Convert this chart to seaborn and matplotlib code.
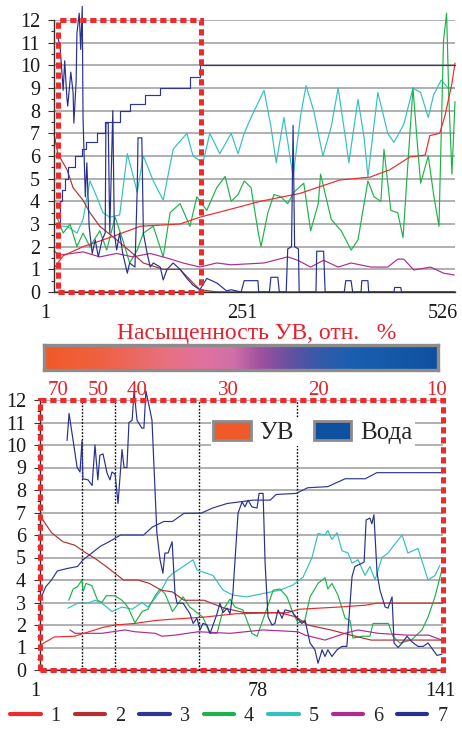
import numpy as np
import matplotlib
matplotlib.use("Agg")
import matplotlib.pyplot as plt
import matplotlib.transforms as mtransforms
from matplotlib.lines import Line2D
from matplotlib.patches import Patch, Rectangle
from matplotlib.colors import LinearSegmentedColormap
import seaborn as sns

sns.set_theme(style="white")
plt.rcParams["font.family"] = ["Liberation Serif", "DejaVu Serif"]

# ---------------- data ----------------
series_names = ["1", "2", "3", "4", "5", "6", "7"]
series_colors = ["#ee2a2a", "#b03035", "#2e3592", "#1db34a", "#33c0c0", "#b02a90", "#27308e"]

# top panel (index 1..526)
top_xticks = [1, 251, 526]
t1_x = [1, 13, 39, 74, 114, 166, 192, 233, 271, 323, 375, 415, 441, 467, 487, 493, 506, 513, 522, 526]
t1_y = [1.05, 1.6, 2.0, 2.4, 2.9, 3.0, 3.3, 3.66, 4.0, 4.35, 4.94, 5.07, 5.4, 5.96, 6.04, 6.9, 7.0, 7.8, 9.2, 10.1]
t2_x = [1, 6, 18, 26, 39, 48, 61, 83, 104, 118, 144, 166, 183, 192, 215, 526]
t2_y = [7.0, 6.1, 5.4, 4.6, 4.05, 3.5, 2.9, 2.3, 1.7, 1.28, 1.0, 1.0, 0.4, 0.1, 0.0, 0.0]
t3_x = [1, 9, 11, 15, 19, 28, 38, 43, 57, 68, 81, 87, 100, 120, 140, 159, 179, 192, 526]
t3_y = [3.0, 4.0, 4.5, 5.0, 5.5, 6.0, 6.3, 6.6, 7.0, 7.5, 7.5, 8.0, 8.3, 8.7, 9.0, 9.0, 9.5, 10.0, 10.0]
t4_x = [5, 13, 22, 31, 39, 48, 61, 70, 81, 91, 100, 110, 118, 131, 144, 153, 166, 179, 188, 201,
        214, 225, 233, 242, 250, 259, 268, 272, 281, 289, 298, 307, 315, 328, 337, 347, 350, 364, 377, 390,
        399, 412, 420, 429, 433, 442, 451, 458, 464, 471, 477, 481, 491, 498, 505, 511, 515, 518, 522, 526]
t4_y = [3.3, 2.6, 3.0, 2.0, 2.6, 2.0, 2.7, 1.85, 3.3, 2.3, 1.28, 1.85, 2.6, 2.9, 1.55, 3.5, 3.9, 2.9, 4.2, 3.6,
        4.6, 5.1, 4.0, 4.3, 4.9, 4.6, 2.7, 2.0, 3.5, 4.3, 4.2, 3.9, 4.4, 4.8, 2.7, 3.9, 5.2, 3.2, 2.7, 1.85,
        2.3, 4.9, 4.2, 4.0, 6.3, 3.6, 3.5, 2.4, 5.5, 9.0, 6.4, 4.8, 6.0, 4.3, 2.9, 11.1, 12.3, 8.5, 5.2, 8.4]
t5_x = [5, 18, 31, 39, 48, 57, 65, 74, 87, 97, 104, 110, 118, 131, 144, 157, 175, 183, 196, 205,
        218, 233, 242, 250, 259, 276, 285, 292, 302, 314, 324, 331, 341, 353, 364, 373, 383, 387, 399, 407,
        412, 425, 438, 446, 459, 471, 481, 491, 498, 508, 517, 525]
t5_y = [2.9, 2.9, 2.6, 3.2, 4.9, 4.2, 3.5, 3.3, 3.4, 6.1, 5.2, 4.4, 6.0, 4.9, 4.05, 6.3, 7.0, 6.0, 5.7, 7.0,
        6.1, 7.0, 6.1, 7.0, 7.7, 8.9, 7.3, 5.7, 7.7, 5.1, 7.8, 9.1, 8.0, 6.0, 7.3, 9.0, 6.7, 5.7, 8.5, 6.8,
        5.1, 8.8, 7.0, 6.6, 7.4, 9.0, 8.8, 7.7, 8.7, 9.35, 9.0, 9.0]
t6_x = [1, 9, 39, 61, 83, 104, 127, 149, 170, 192, 214, 233, 276, 307, 320, 337, 354, 373, 390, 416,
        438, 451, 459, 472, 494, 511, 525]
t6_y = [1.8, 1.63, 1.77, 1.55, 1.7, 1.55, 1.7, 1.5, 1.28, 1.1, 1.28, 1.2, 1.28, 1.55, 1.4, 1.1, 1.4, 1.1, 1.28, 1.1,
        1.1, 1.45, 1.45, 0.97, 1.1, 0.83, 0.75]
t7_x = [5, 9, 13, 15, 18, 19, 23, 26, 27, 30, 31, 34, 36, 38, 39, 42, 44, 47, 51, 55,
        59, 64, 68, 69, 72, 74, 78, 80, 83, 87, 91, 97, 100, 107, 110, 111, 116, 118, 123, 127,
        131, 140, 144, 149, 157, 166, 175, 183, 192, 201, 214, 227, 233, 246, 250, 268, 269, 283, 285, 294,
        296, 305, 307, 312, 314, 316, 321, 322, 344, 345, 354, 356, 381, 383, 390, 392, 403, 404, 412, 413,
        446, 447, 455, 456, 526]
t7_y = [11.4, 10.8, 8.9, 10.2, 8.5, 8.2, 9.7, 8.8, 7.45, 9.3, 11.4, 12.3, 10.7, 12.6, 7.7, 4.2, 5.7, 2.9, 1.7, 2.3,
        1.55, 2.3, 2.6, 7.45, 7.45, 2.6, 8.0, 2.6, 1.85, 2.6, 1.7, 0.83, 1.28, 1.1, 4.6, 6.8, 6.8, 2.6, 1.7, 1.1,
        1.28, 1.1, 0.53, 1.0, 1.28, 1.0, 0.6, 0.3, 0.1, 0.6, 0.4, 0.05, 0.1, 0.0, 0.5, 0.5, 0.0, 0.0, 0.65, 0.65,
        0.0, 0.0, 1.9, 2.0, 7.35, 2.0, 1.9, 0.0, 0.0, 1.8, 1.8, 0.0, 0.0, 0.5, 0.5, 0.0, 0.0, 0.5, 0.5, 0.0,
        0.0, 0.2, 0.2, 0.0, 0.0]

# bottom panel (index 1..141)
bot_xticks = [1, 78, 141]
sat_labels = ["70", "50", "40", "30", "20", "10"]
sat_pos = [7.2, 21.1, 34.7, 66.3, 97.6, 138.9]
vline_pos = [15.6, 27.1, 56.2, 90.3]
b1_x = [1, 6, 13, 18, 23, 27, 34, 41, 46, 58, 69, 87, 91, 105, 114, 118, 141]
b1_y = [1.1, 1.47, 1.5, 1.7, 1.9, 2.0, 2.07, 2.2, 2.25, 2.35, 2.5, 2.55, 2.7, 2.8, 2.88, 2.97, 2.97]
b2_x = [1, 2, 5, 9, 13, 17, 20, 24, 27, 30, 35, 39, 43, 47, 51, 58, 65, 72, 84, 90, 94, 102, 109, 116, 141]
b2_y = [6.9, 6.67, 6.1, 5.7, 5.55, 5.2, 4.97, 4.6, 4.3, 4.0, 4.0, 3.85, 3.55, 3.47, 3.1, 3.1, 2.75, 2.55, 2.55,
        2.36, 2.0, 1.78, 1.55, 1.33, 1.33]
b3_x = [1, 3, 5, 7, 10, 14, 16, 18, 22, 25, 29, 37, 40, 44, 47, 51, 57, 61, 66, 75, 81, 83, 90, 94, 101, 107,
        114, 118, 141]
b3_y = [3.1, 3.7, 4.0, 4.4, 4.5, 4.6, 4.9, 5.1, 5.5, 5.7, 6.0, 6.0, 6.35, 6.6, 6.6, 6.96, 6.97, 7.2, 7.4, 7.55,
        7.55, 7.8, 7.85, 8.1, 8.15, 8.5, 8.5, 8.77, 8.77]
b4_x = [11, 12.5, 14, 15.6, 16, 17, 19, 21, 22.5, 24, 27, 29.5, 31.5, 34, 36.5, 38.5, 41, 42.7, 44.4, 47,
        50.7, 53, 57.6, 60, 62.5, 64.6, 67, 68.7, 71.5, 74.6, 76.4, 80, 82, 84.4, 86.8, 89, 90.6, 93, 94.8, 97.6,
        100, 101, 102.4, 104.5, 107, 108.7, 109.7, 113, 115.6, 116.7, 122, 123.6, 126, 130, 133.7, 135.8, 138.2, 140.6]
b4_y = [3.1, 3.6, 3.7, 4.0, 3.5, 3.85, 3.75, 3.1, 3.0, 3.3, 3.3, 3.1, 2.8, 2.1, 2.6, 2.7, 3.3, 3.6, 3.4, 2.6,
        3.25, 2.8, 2.35, 1.63, 1.63, 2.67, 3.15, 2.8, 2.67, 1.63, 1.5, 2.8, 3.55, 3.6, 3.25, 2.5, 2.1, 2.2, 3.25, 3.85,
        4.1, 3.6, 3.85, 3.33, 2.3, 2.2, 1.42, 1.5, 1.5, 2.07, 2.07, 1.5, 1.2, 1.33, 1.78, 2.35, 3.25, 4.45]
b5_x = [10.7, 14.2, 17.7, 20.1, 22.5, 26.0, 29.5, 33.0, 36.4, 38.5, 41.0, 43.4, 45.5, 47.2, 49.6, 54.2, 55.5,
        61.1, 64.6, 68.0, 72.9, 78.5, 84.4, 88.9, 92.4, 95.5, 97.6, 100.0, 101.0, 102.4, 104.2, 105.9, 108.0,
        109.4, 111.5, 113.9, 115.6, 117.4, 119.8, 121.9, 124.3, 126.8, 128.8, 132.3, 135.8, 138.2, 139.9]
b5_y = [2.75, 2.97, 2.97, 3.1, 2.97, 2.6, 2.8, 2.7, 3.0, 2.8, 3.2, 3.6, 4.1, 4.3, 4.5, 4.9, 4.45, 4.2, 3.55, 3.33,
        3.25, 3.4, 3.55, 3.78, 4.13, 5.0, 6.07, 6.0, 6.2, 5.8, 6.1, 5.3, 5.2, 4.75, 4.9, 4.2, 4.6, 4.0, 5.0, 5.2,
        5.6, 6.0, 5.2, 5.4, 4.0, 4.2, 4.65]
b6_x = [11.4, 13.2, 22.5, 30.5, 34.0, 41.0, 43.4, 47.9, 56.0, 67.0, 78.5, 90.6, 93.1, 100.0, 106.9, 111.5,
        118.5, 128.5, 136.0, 140.6]
b6_y = [1.78, 1.63, 1.63, 1.78, 1.7, 1.63, 1.5, 1.55, 1.7, 1.63, 1.78, 1.7, 1.55, 1.33, 1.63, 1.78, 1.63, 1.55,
        1.55, 1.33]
b7_x = [10.4, 11.1, 12.5, 13.9, 14.9, 15.6, 15.9, 17.7, 19.1, 20.1, 21.1, 21.8, 22.9, 24.3, 25.3, 26.0, 27.1,
        28.1, 29.5, 30.2, 31.2, 31.9, 33.0, 33.7, 34.7, 36.4, 37.1, 37.8, 39.2, 39.9, 41.6, 42.7, 43.7, 44.4,
        45.5, 46.9, 47.9, 48.6, 50.7, 53.1, 54.2, 55.5, 56.6, 57.6, 59.0, 60.1, 62.5, 63.5, 64.6, 66.0, 67.0,
        68.0, 69.8, 71.2, 72.2, 73.3, 74.6, 76.4, 77.1, 78.5, 79.2, 80.2, 81.6, 82.6, 83.7, 85.1, 86.1, 88.5,
        90.3, 92.0, 93.1, 94.8, 96.5, 97.6, 99.0, 100.0, 101.0, 102.4, 104.2, 105.9, 107.6, 109.4, 110.4,
        112.9, 113.6, 114.3, 115.6, 116.3, 117.0, 118.1, 119.1, 120.9, 121.9, 123.3, 124.0, 125.4, 126.8,
        128.5, 130.2, 132.3, 134.1, 135.8, 137.5, 138.9, 140.6]
b7_y = [10.2, 11.4, 10.2, 9.0, 8.8, 10.2, 8.5, 8.45, 8.2, 10.0, 8.45, 9.55, 9.6, 8.75, 8.45, 8.8, 8.7, 7.4, 9.8,
        9.0, 9.0, 11.0, 11.1, 12.4, 11.1, 10.75, 10.75, 12.4, 11.55, 11.1, 6.1, 4.9, 4.3, 5.2, 5.2, 5.7, 3.4,
        2.97, 2.97, 2.5, 2.07, 2.3, 1.78, 2.07, 2.0, 1.63, 2.5, 2.97, 2.55, 2.75, 2.5, 3.4, 6.97, 7.47, 7.25,
        7.55, 7.25, 7.2, 7.85, 7.85, 4.75, 2.36, 2.0, 2.07, 2.67, 2.3, 2.67, 2.6, 2.3, 2.07, 2.2, 1.2, 0.9,
        0.3, 0.9, 0.6, 0.9, 0.6, 0.9, 1.05, 1.05, 4.15, 4.6, 4.75, 4.8, 6.67, 6.75, 6.5, 6.9, 4.3, 3.55, 2.8,
        2.75, 3.25, 1.2, 1.0, 1.2, 1.5, 1.25, 1.05, 1.05, 1.2, 0.9, 0.65, 0.7]

legend_cats = ["УВ", "Вода"]
legend_cat_colors = ["#f05a28", "#1050a0"]
title_text = "Насыщенность УВ, отн.   %"
grad_colors = [(0.0, "#f05a28"), (0.14, "#f06040"), (0.31, "#e87080"), (0.41, "#e070a0"),
               (0.48, "#d070a8"), (0.55, "#a050a0"), (0.61, "#7050a0"), (0.69, "#3a58a8"),
               (0.78, "#1a60b0"), (1.0, "#1050a0")]

# ---------------- figure ----------------
W, H = 462, 729
fig = plt.figure(figsize=(W / 100, H / 100), dpi=100)


def px_axes(l, t, r, b):
    return [l / W, 1 - b / H, (r - l) / W, (b - t) / H]


ax_t = fig.add_axes(px_axes(54, 20, 455, 292))
ax_b = fig.add_axes(px_axes(40, 400, 443, 670))
ax_c = fig.add_axes(px_axes(44, 345, 438, 370))

RED = "#ee2a2a"
LW = 0.85


def style(ax, xlim, xticks, xoffs):
    ax.set_xlim(*xlim)
    ax.set_ylim(0, 12)
    ax.set_yticks(range(13))
    ax.set_yticks(np.arange(0.5, 12, 1), minor=True)
    ax.set_xticks(xticks)
    ax.set_xticklabels([str(t) for t in xticks])
    ax.yaxis.grid(True, which="major", color="#a3a3a3", lw=1.2)
    ax.xaxis.grid(False)
    ax.set_axisbelow(True)
    ax.tick_params(axis="y", which="major", left=True, direction="out", length=4, width=0.8,
                   color="#333333", pad=6, labelsize=14.5, labelcolor="#1a1a1a")
    ax.tick_params(axis="y", which="minor", left=True, direction="out", length=2.5, width=0.8,
                   color="#333333")
    ax.tick_params(axis="x", length=0, pad=9, labelsize=14.5, labelcolor="#1a1a1a")
    for s in ["top", "right"]:
        ax.spines[s].set_visible(False)
    for s in ["left", "bottom"]:
        ax.spines[s].set_color("#303030")
        ax.spines[s].set_linewidth(1.0)
    for lab, xo in zip(ax.get_xticklabels(), xoffs):
        off = mtransforms.ScaledTranslation(xo / 100, 0, fig.dpi_scale_trans)
        lab.set_transform(lab.get_transform() + off)


def draw(ax, xs, ys, color, steps=False):
    kw = dict(drawstyle="steps-post") if steps else {}
    sns.lineplot(x=xs, y=ys, ax=ax, color=color, linewidth=LW, estimator=None, sort=False,
                 legend=False, clip_on=False, **kw)


# top panel
style(ax_t, (1, 526), top_xticks, [-9, -3, -12])
draw(ax_t, t5_x, t5_y, series_colors[4])
draw(ax_t, t4_x, t4_y, series_colors[3])
draw(ax_t, t6_x, t6_y, series_colors[5])
draw(ax_t, t2_x, t2_y, series_colors[1])
draw(ax_t, t1_x, t1_y, series_colors[0])
draw(ax_t, t3_x, t3_y, series_colors[2], steps=True)
draw(ax_t, t7_x, t7_y, series_colors[6])
ax_t.add_patch(Rectangle((6.2, 0), 193.4 - 6.2, 12, fill=False, edgecolor=RED, lw=3.6,
                         linestyle=(0, (1.25, 0.75)), clip_on=False, zorder=6))

# bottom panel
style(ax_b, (1, 141), bot_xticks, [-5, -4, -3])
ax_b.vlines(vline_pos, 0, 12, colors="black", linestyles=(0, (1.2, 1.2)), lw=1.0, zorder=1)
draw(ax_b, b5_x, b5_y, series_colors[4])
draw(ax_b, b4_x, b4_y, series_colors[3])
draw(ax_b, b6_x, b6_y, series_colors[5])
draw(ax_b, b2_x, b2_y, series_colors[1])
draw(ax_b, b1_x, b1_y, series_colors[0])
draw(ax_b, b3_x, b3_y, series_colors[2])
draw(ax_b, b7_x, b7_y, series_colors[6])
ax_b.add_patch(Rectangle((0, 0), 1, 1, transform=ax_b.transAxes, fill=False, edgecolor=RED, lw=3.6,
                         linestyle=(0, (1.25, 0.75)), clip_on=False, zorder=6))
sat_tr = mtransforms.blended_transform_factory(ax_b.transData, ax_b.transAxes)
for lab, pos in zip(sat_labels, sat_pos):
    ax_b.text(pos, 1.037, lab, transform=sat_tr, ha="center", va="center", color="#e8202a",
              fontsize=15)

cat_handles = [Patch(facecolor=c, edgecolor="#8c8c8c", lw=2) for c in legend_cat_colors]
leg = ax_b.legend(cat_handles, legend_cats, ncol=2, loc="center", bbox_to_anchor=(0.677, 0.881),
                  frameon=True, fontsize=18, handlelength=1.5, handleheight=0.8, handletextpad=0.35,
                  columnspacing=0.8, borderpad=0.1, borderaxespad=0, framealpha=1, fancybox=False)
leg.get_frame().set_edgecolor("none")
leg.get_frame().set_facecolor("white")
leg.set_zorder(4)

# gradient bar
cmap = LinearSegmentedColormap.from_list("sat", grad_colors)
ax_c.imshow(np.linspace(0, 1, 256)[None, :], aspect="auto", cmap=cmap)
ax_c.set_xticks([])
ax_c.set_yticks([])
for s in ax_c.spines.values():
    s.set_visible(True)
    s.set_color("#8c8c8c")
    s.set_linewidth(2.4)
fig.text(257 / W, 1 - 333 / H, title_text, ha="center", va="center", color="#e8202a", fontsize=17)

# series legend
line_handles = [Line2D([0], [0], color=c, lw=3) for c in series_colors]
fig.legend(line_handles, series_names, ncol=7, loc="center", bbox_to_anchor=(229 / W, 1 - 716 / H),
           frameon=False, fontsize=14.5, handlelength=1.5, handletextpad=0.5, columnspacing=0.7,
           borderpad=0.1, borderaxespad=0)

fig.savefig("out.png", dpi=100)
